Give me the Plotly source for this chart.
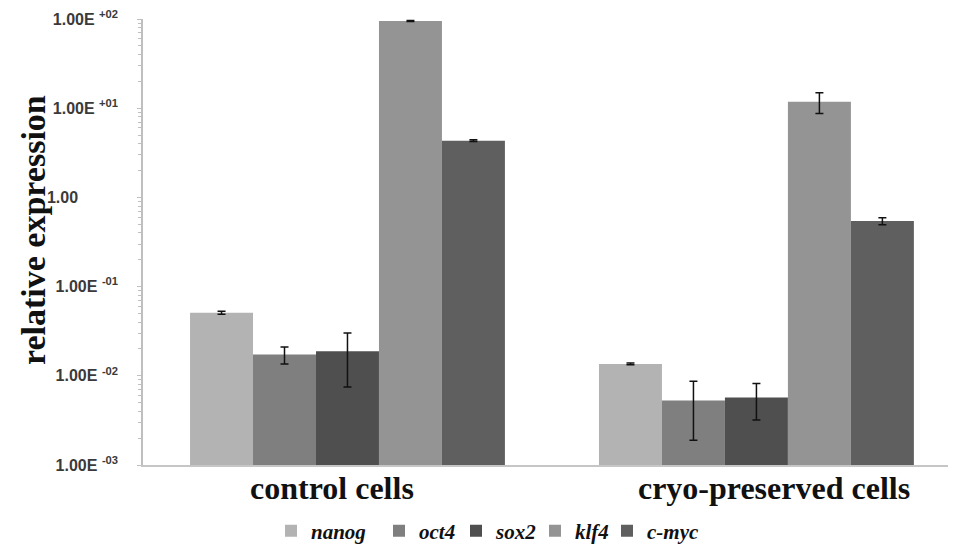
import plotly.graph_objects as go

# ---- data ----
groups = ["control cells", "cryo-preserved cells"]
group_label_pos = [-0.038, 1.043]
genes = ["nanog", "oct4", "sox2", "klf4", "c-myc"]
control_vals = [0.051, 0.0173, 0.0188, 95.0, 4.32]
control_err = [0.002, 0.0037, 0.0113, 1.0, 0.1]
cryo_vals = [0.0136, 0.0053, 0.0057, 11.8, 0.543]
cryo_err = [0.0003, 0.0034, 0.0025, 3.1, 0.05]
colors = ["#b3b3b3", "#7f7f7f", "#4f4f4f", "#949494", "#5f5f5f"]
tick_vals = [1e-3, 1e-2, 1e-1, 1, 10, 100]
tick_text = ["1.00E <sup>-03</sup>", "1.00E <sup>-02</sup>", "1.00E <sup>-01</sup>",
             "1.00" + "\u00a0" * 9, "1.00E <sup>+01</sup>", "1.00E <sup>+02</sup>"]

# page has an 8px body margin: figure drawn 8px right/down
W, H = 948, 538
OFF = 8
legend_x_px = [293, 401, 478, 557, 629]  # symbol centres (screen px)
legend_y_px = 531

fig = go.Figure()
for i, g in enumerate(genes):
    lg = "legend" if i == 0 else f"legend{i + 1}"
    fig.add_trace(go.Bar(
        x=[0, 1],
        y=[control_vals[i], cryo_vals[i]],
        name=g,
        legend=lg,
        marker=dict(color=colors[i], line=dict(width=0)),
        error_y=dict(type="data", array=[control_err[i], cryo_err[i]],
                     color="#111111", thickness=1.5, width=4),
    ))

legend_font = dict(family="Liberation Serif", size=21, color="#111111",
                   style="italic", weight="bold")
legends = {}
for i in range(len(genes)):
    key = "legend" if i == 0 else f"legend{i + 1}"
    legends[key] = dict(orientation="h", xref="container", yref="container",
                        x=(legend_x_px[i] - OFF - 22) / W, xanchor="left",
                        y=1 - (legend_y_px - OFF) / H, yanchor="middle",
                        font=legend_font, bgcolor="rgba(0,0,0,0)",
                        borderwidth=0, itemwidth=30)

plot_left, plot_top, plot_bottom = 143 - OFF, 19 - OFF, 465 - OFF
plot_w = W - plot_left
plot_h = plot_bottom - plot_top

fig.update_layout(
    width=W, height=H,
    margin=dict(l=plot_left, r=0, t=plot_top, b=H - plot_bottom),
    paper_bgcolor="white", plot_bgcolor="white",
    barmode="group", bargap=0.23, bargroupgap=0,
    showlegend=True,
    xaxis=dict(range=[-0.5, 1.488], tickvals=group_label_pos, ticktext=groups,
               showline=True, linecolor="#c6c6c6", linewidth=2,
               showgrid=False, zeroline=False, ticks="", automargin=False,
               ticklabelstandoff=-6,
               tickfont=dict(family="Liberation Serif", size=32, color="#111111", weight="bold")),
    yaxis=dict(type="log", range=[-3, 2], tickvals=tick_vals, ticktext=tick_text,
               showline=True, linecolor="#bfbfbf", linewidth=1.5,
               showgrid=False, zeroline=False, automargin=False,
               ticklabeloverflow="allow",
               ticks="outside", ticklen=4, tickcolor="#bfbfbf", ticklabelstandoff=16,
               minor=dict(ticks="outside", ticklen=3, tickcolor="#bfbfbf", dtick="D1", showgrid=False),
               tickfont=dict(family="Liberation Sans", size=16, color="#3a3a3a", weight="bold")),
    annotations=[dict(text="relative expression", textangle=-90,
                      xref="paper", yref="paper",
                      x=(33 - 143) / plot_w, y=(465 - 230) / plot_h,
                      xanchor="center", yanchor="middle", showarrow=False,
                      font=dict(family="Liberation Serif", size=34, color="#111111", weight="bold"))],
    **legends,
)

fig.write_html("out.html")
